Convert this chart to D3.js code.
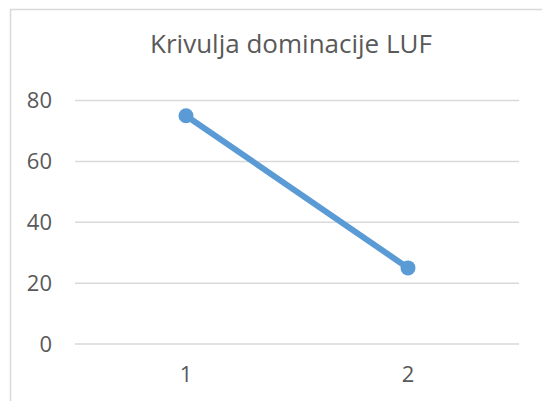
<!DOCTYPE html>
<html>
<head>
<meta charset="utf-8">
<script src="https://cdn.jsdelivr.net/npm/d3@7"></script>
<style>
  body { margin: 0; background: #fff; }
  text { font-family: 'Open Sans', sans-serif; fill: #595959; }
</style>
</head>
<body>
<script>
// data
var categories = ['1', '2']
var values = [75, 25]
var yTicks = [0, 20, 40, 60, 80]
var title = 'Krivulja dominacije LUF'

var W = 542, H = 401
var margin = {top: 100.5, right: 23, left: 75, bottom: 57}
var w = W - margin.left - margin.right
var h = H - margin.top - margin.bottom

var svg = d3.select('body').append('svg')
	.attr('width', W)
	.attr('height', H)

// chart area border (right and bottom edges fall outside the picture)
svg.append('rect')
	.attr('x', 10.5)
	.attr('y', 9.5)
	.attr('width', 600)
	.attr('height', 500)
	.attr('fill', 'none')
	.attr('stroke', '#d9d9d9')
	.attr('stroke-width', 1.5)

svg.append('text')
	.attr('x', 291)
	.attr('y', 53)
	.attr('text-anchor', 'middle')
	.style('font-size', '26px')
	.text(title)

var g = svg.append('g')
	.attr('transform', 'translate(' + margin.left + ',' + margin.top + ')')

// scales
var xScale = d3.scaleBand()
	.domain(categories)
	.range([0, w])
var yScale = d3.scaleLinear()
	.domain([0, 80])
	.range([h, 0])

// gridlines
g.selectAll('.grid')
	.data(yTicks)
	.enter()
	.append('line')
	.attr('class', 'grid')
	.attr('x1', 0)
	.attr('x2', w)
	.attr('y1', function (d) { return yScale(d) })
	.attr('y2', function (d) { return yScale(d) })
	.attr('stroke', '#d9d9d9')
	.attr('stroke-width', 1.5)

// y labels
g.selectAll('.ylab')
	.data(yTicks)
	.enter()
	.append('text')
	.attr('class', 'ylab')
	.attr('x', -23)
	.attr('y', function (d) { return yScale(d) })
	.attr('dy', '0.36em')
	.attr('text-anchor', 'end')
	.style('font-size', '22px')
	.text(function (d) { return d })

// x labels
g.selectAll('.xlab')
	.data(categories)
	.enter()
	.append('text')
	.attr('class', 'xlab')
	.attr('x', function (d) { return xScale(d) + xScale.bandwidth() / 2 })
	.attr('y', h + 38)
	.attr('text-anchor', 'middle')
	.style('font-size', '22px')
	.text(function (d) { return d })

// line
var line = d3.line()
	.x(function (d, i) { return xScale(categories[i]) + xScale.bandwidth() / 2 })
	.y(function (d) { return yScale(d) })

g.append('path')
	.datum(values)
	.attr('d', line)
	.attr('fill', 'none')
	.attr('stroke', '#5b9bd5')
	.attr('stroke-width', 6)
	.attr('stroke-linecap', 'round')

g.selectAll('.dot')
	.data(values)
	.enter()
	.append('circle')
	.attr('class', 'dot')
	.attr('cx', function (d, i) { return xScale(categories[i]) + xScale.bandwidth() / 2 })
	.attr('cy', function (d) { return yScale(d) })
	.attr('r', 7.5)
	.attr('fill', '#5b9bd5')
</script>
</body>
</html>
